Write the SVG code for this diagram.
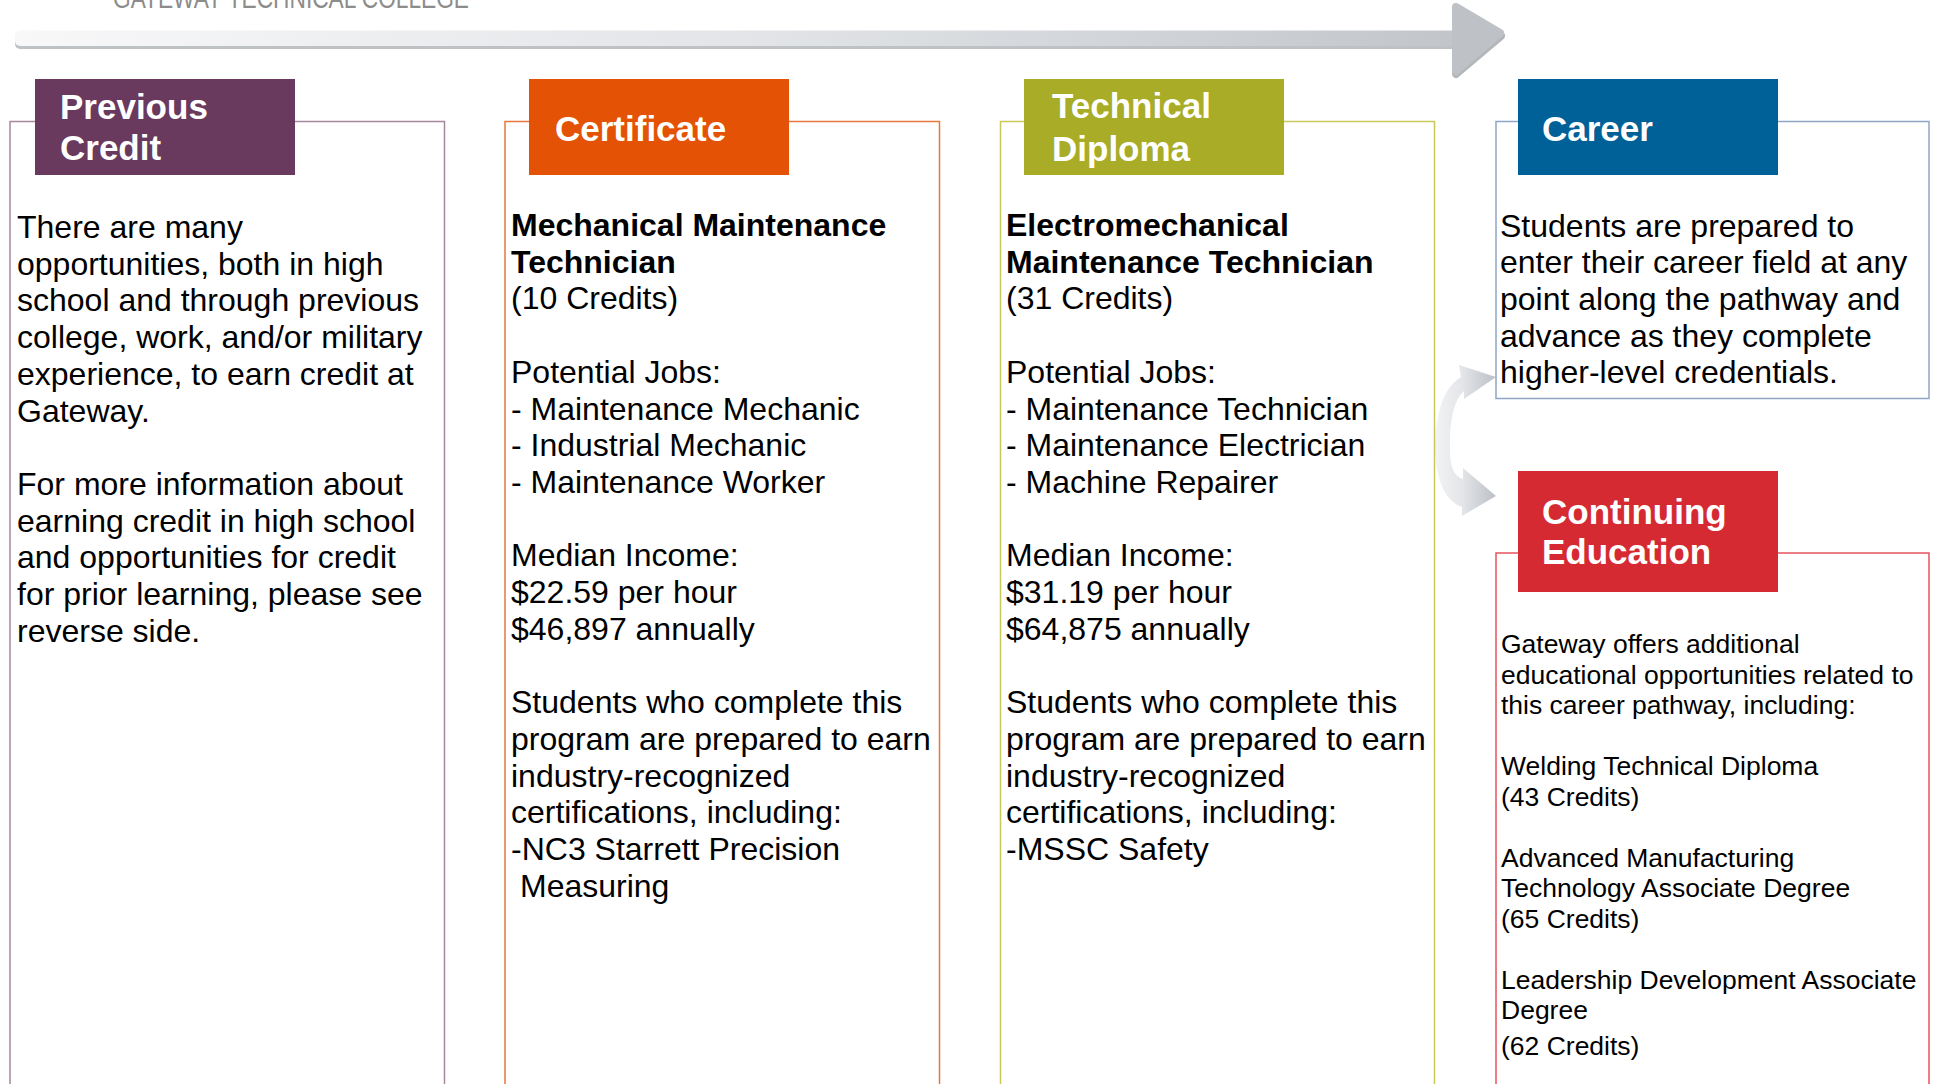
<svg xmlns="http://www.w3.org/2000/svg" width="1935" height="1084" viewBox="0 0 1935 1084">
  <defs>
    <linearGradient id="barGrad" x1="15" y1="0" x2="1500" y2="0" gradientUnits="userSpaceOnUse">
      <stop offset="0" stop-color="#f8f8f9"/>
      <stop offset="0.5" stop-color="#e2e4e7"/>
      <stop offset="1" stop-color="#c0c4c9"/>
    </linearGradient>
    <linearGradient id="curveGrad" x1="1435" y1="0" x2="1496" y2="0" gradientUnits="userSpaceOnUse">
      <stop offset="0" stop-color="#f2f3f4"/>
      <stop offset="0.45" stop-color="#e3e5e8"/>
      <stop offset="1" stop-color="#bcc1c6"/>
    </linearGradient>
    <style>
      .body { font-family: "Liberation Sans", Arial, Helvetica, sans-serif; font-size: 32px; fill: #000; }
      .small { font-family: "Liberation Sans", Arial, Helvetica, sans-serif; font-size: 26.5px; fill: #000; }
      .bold { font-weight: bold; }
      .head { font-family: "Liberation Sans", Arial, Helvetica, sans-serif; font-size: 35px; font-weight: bold; fill: #ffffff; }
      .frame { fill: none; stroke-width: 1.5; }
    </style>
  </defs>

  <rect width="1935" height="1084" fill="#ffffff"/>

  <text x="113" y="8" font-family="'Liberation Sans Narrow', 'Liberation Sans', Arial, sans-serif" font-size="30" fill="#8c8c8c" textLength="356" lengthAdjust="spacingAndGlyphs">GATEWAY TECHNICAL COLLEGE</text>

  <g id="connectors">
    <!-- main timeline arrow -->
    <rect x="15" y="33" width="1442" height="16" rx="5" fill="#bfc2c5"/>
    <path d="M1456,9 L1501,36 L1456,74 Z" fill="#b3b6b9" stroke="#b3b6b9" stroke-width="8" stroke-linejoin="round"/>
    <rect x="15" y="30.5" width="1442" height="15.5" rx="5" fill="url(#barGrad)"/>
    <path d="M1456,7 L1500,33 L1456,71 Z" fill="#bec2c7" stroke="#bec2c7" stroke-width="8" stroke-linejoin="round"/>
    <!-- curved arrows to Career and Continuing Education -->
    <path d="M1435,452 C1435,412 1444,387 1461,377 L1459,365 L1496,377 L1464,399 L1464,391 C1454,399 1449,422 1450,452 Z" fill="url(#curveGrad)"/>
    <path d="M1435,444 C1435,482 1446,501 1462,507 L1462,516 L1496,496 L1463,468 L1463,479 C1453,476 1449,464 1450,444 Z" fill="url(#curveGrad)"/>
  </g>

  <g id="previous-credit">
    <path class="frame" stroke="#a5879e" d="M10,1090 V121.5 H444.5 V1090"/>
    <rect x="35" y="79" width="260" height="96" fill="#6a395e"/>
    <text class="head"><tspan x="60" y="119">Previous</tspan><tspan x="60" y="160">Credit</tspan></text>
    <text class="body">
      <tspan x="17" y="238">There are many</tspan>
      <tspan x="17" y="274.7">opportunities, both in high</tspan>
      <tspan x="17" y="311.4">school and through previous</tspan>
      <tspan x="17" y="348.1">college, work, and/or military</tspan>
      <tspan x="17" y="384.8">experience, to earn credit at</tspan>
      <tspan x="17" y="421.5">Gateway.</tspan>
      <tspan x="17" y="494.9">For more information about</tspan>
      <tspan x="17" y="531.6">earning credit in high school</tspan>
      <tspan x="17" y="568.3">and opportunities for credit</tspan>
      <tspan x="17" y="605">for prior learning, please see</tspan>
      <tspan x="17" y="641.7">reverse side.</tspan>
    </text>
  </g>

  <g id="certificate">
    <path class="frame" stroke="#e5773d" d="M505,1090 V121.5 H939.5 V1090"/>
    <rect x="529" y="79" width="260" height="96" fill="#e35205"/>
    <text class="head" x="555" y="141">Certificate</text>
    <text class="body">
      <tspan class="bold" x="511" y="236">Mechanical Maintenance</tspan>
      <tspan class="bold" x="511" y="272.7">Technician</tspan>
      <tspan x="511" y="309.4">(10 Credits)</tspan>
      <tspan x="511" y="382.8">Potential Jobs:</tspan>
      <tspan x="511" y="419.5">- Maintenance Mechanic</tspan>
      <tspan x="511" y="456.2">- Industrial Mechanic</tspan>
      <tspan x="511" y="492.9">- Maintenance Worker</tspan>
      <tspan x="511" y="566.3">Median Income:</tspan>
      <tspan x="511" y="603">$22.59 per hour</tspan>
      <tspan x="511" y="639.7">$46,897 annually</tspan>
      <tspan x="511" y="713.1">Students who complete this</tspan>
      <tspan x="511" y="749.8">program are prepared to earn</tspan>
      <tspan x="511" y="786.5">industry-recognized</tspan>
      <tspan x="511" y="823.2">certifications, including:</tspan>
      <tspan x="511" y="859.9">-NC3 Starrett Precision</tspan>
      <tspan x="520" y="896.6">Measuring</tspan>
    </text>
  </g>

  <g id="technical-diploma">
    <path class="frame" stroke="#c8c957" d="M1000.5,1090 V121.5 H1434.5 V1090"/>
    <rect x="1024" y="79" width="260" height="96" fill="#a9ac27"/>
    <text class="head"><tspan x="1052" y="118">Technical</tspan><tspan x="1052" y="161">Diploma</tspan></text>
    <text class="body">
      <tspan class="bold" x="1006" y="236">Electromechanical</tspan>
      <tspan class="bold" x="1006" y="272.7">Maintenance Technician</tspan>
      <tspan x="1006" y="309.4">(31 Credits)</tspan>
      <tspan x="1006" y="382.8">Potential Jobs:</tspan>
      <tspan x="1006" y="419.5">- Maintenance Technician</tspan>
      <tspan x="1006" y="456.2">- Maintenance Electrician</tspan>
      <tspan x="1006" y="492.9">- Machine Repairer</tspan>
      <tspan x="1006" y="566.3">Median Income:</tspan>
      <tspan x="1006" y="603">$31.19 per hour</tspan>
      <tspan x="1006" y="639.7">$64,875 annually</tspan>
      <tspan x="1006" y="713.1">Students who complete this</tspan>
      <tspan x="1006" y="749.8">program are prepared to earn</tspan>
      <tspan x="1006" y="786.5">industry-recognized</tspan>
      <tspan x="1006" y="823.2">certifications, including:</tspan>
      <tspan x="1006" y="859.9">-MSSC Safety</tspan>
    </text>
  </g>

  <g id="career">
    <rect class="frame" stroke="#8fa7c6" x="1496" y="121.5" width="433" height="277"/>
    <rect x="1518" y="79" width="260" height="96" fill="#006199"/>
    <text class="head" x="1542" y="141">Career</text>
    <text class="body">
      <tspan x="1500" y="236.5">Students are prepared to</tspan>
      <tspan x="1500" y="273.2">enter their career field at any</tspan>
      <tspan x="1500" y="309.9">point along the pathway and</tspan>
      <tspan x="1500" y="346.6">advance as they complete</tspan>
      <tspan x="1500" y="383.3">higher-level credentials.</tspan>
    </text>
  </g>

  <g id="continuing-education">
    <path class="frame" stroke="#e4545c" d="M1496,1090 V553 H1929 V1090"/>
    <rect x="1518" y="471" width="260" height="121" fill="#d62a33"/>
    <text class="head"><tspan x="1542" y="524">Continuing</tspan><tspan x="1542" y="564">Education</tspan></text>
    <text class="small">
      <tspan x="1501" y="653">Gateway offers additional</tspan>
      <tspan x="1501" y="683.5">educational opportunities related to</tspan>
      <tspan x="1501" y="714">this career pathway, including:</tspan>
      <tspan x="1501" y="775">Welding Technical Diploma</tspan>
      <tspan x="1501" y="805.5">(43 Credits)</tspan>
      <tspan x="1501" y="866.5">Advanced Manufacturing</tspan>
      <tspan x="1501" y="897">Technology Associate Degree</tspan>
      <tspan x="1501" y="927.5">(65 Credits)</tspan>
      <tspan x="1501" y="988.5">Leadership Development Associate</tspan>
      <tspan x="1501" y="1019">Degree</tspan>
      <tspan x="1501" y="1055">(62 Credits)</tspan>
    </text>
  </g>
</svg>
